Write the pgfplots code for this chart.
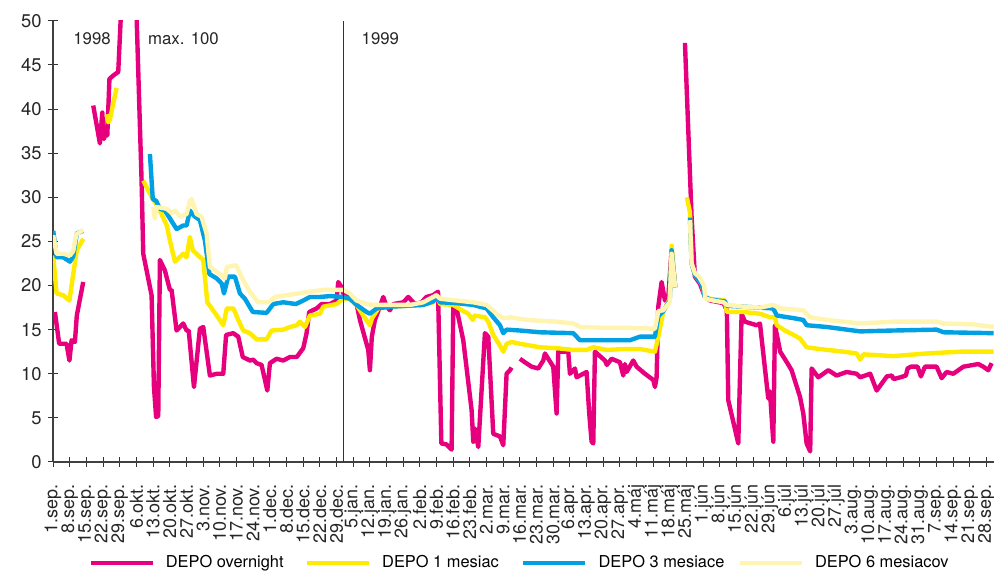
\documentclass[border=0pt]{standalone}
\usepackage{fontspec}
\setmainfont{TeX Gyre Heros}
\usepackage{pgfplots}
\pgfplotsset{compat=1.18}
\definecolor{cMag}{RGB}{230,0,126}
\definecolor{cYel}{RGB}{255,235,0}
\definecolor{cBlu}{RGB}{0,160,226}
\definecolor{cCre}{RGB}{255,244,176}
\begin{document}
\begin{tikzpicture}
\useasboundingbox (-26.5pt,-54.5pt) rectangle (470.5pt,231pt);
\begin{axis}[
  scale only axis, width=470.5pt, height=220.6pt,
  xmin=0, xmax=395.2, ymin=0, ymax=50,
  axis x line=bottom, axis y line=left,
  axis line style={-, black!75, line width=0.6pt},
  tick style={black!80, line width=0.5pt},
  major tick length=5pt, tick align=center,
  ytick={0,5,...,50},
  xtick={0,7,...,392},
  xticklabels={1.sep.,8.sep.,15.sep.,22.sep.,29.sep.,6.okt.,13.okt.,20.okt.,27.okt.,3.nov.,10.nov.,17.nov.,24.nov.,1.dec.,8.dec.,15.dec.,22.dec.,29.dec.,5.jan.,12.jan.,19.jan.,26.jan.,2.feb.,9.feb.,16.feb.,23.feb.,2.mar.,9.mar.,16.mar.,23.mar.,30.mar.,6.apr.,13.apr.,20.apr.,27.apr.,4.máj,11.máj,18.máj,25.máj,1.jún,8.jún,15.jún,22.jún,29.jún,6.júl,13.júl,20.júl,27.júl,3.aug.,10.aug.,17.aug.,24.aug.,31.aug.,7.sep.,14.sep.,21.sep.,28.sep.},
  xticklabel style={rotate=90, anchor=east, inner sep=0pt, font=\fontsize{9.0}{10}\selectfont, text=black!85},
  yticklabel style={anchor=east, inner sep=0pt, font=\fontsize{9.2}{10}\selectfont, text=black!85},
  /pgf/number format/assume math mode=true,
  xticklabel shift=8.5pt, yticklabel shift=3pt,
  unbounded coords=jump,
  every axis plot/.append style={line width=2.2pt, line join=round},
  legend columns=4,
  legend cell align=left,
  legend style={at={(axis description cs:0.0372,-0.229)}, anchor=west, draw=none, fill=none, inner sep=0pt, column sep=0pt, nodes={inner sep=0pt}, font=\fontsize{8.2}{9}\selectfont},
  legend image code/.code={\draw[#1] (0pt,0pt) -- (31pt,0pt);},
]
\addplot[cMag] coordinates {
(0.8,17.0) (2.6,13.4) (5.7,13.4) (6.9,11.5) (7.8,13.8) (9.2,13.6) (10,16.6) (12.7,20.4) (13.5,nan)
(16.9,40.4) (19.7,36.1) (20.7,39.6) (21.4,36.6) (22.3,37.6) (22.8,37.0) (23.7,43.4) (25.3,43.8) (27.4,44.2) (28.4,50) (29.5,75) (30.6,100) (32,98) (33.5,80) (35.1,50.6) (37.2,31.9) (37.9,23.6) (41.4,18.9) (42.4,8.5) (43.3,5.1) (44.2,5.2) (44.9,22.9) (47,21.7) (49.1,19.5) (49.8,19.5) (51.9,14.9) (54.7,15.7) (56.1,14.9) (57,14.9) (59.2,8.5) (61.7,15.1) (63.1,15.3) (65.9,9.8) (68.8,10.0) (71.5,10.0) (72.7,14.4) (75.7,14.6) (77.8,14.2) (79.7,11.9) (82.7,11.5) (84.1,11.6) (85.5,11.2) (87.6,11.0) (90,8.1) (91.1,11.2) (93.9,11.7) (96.7,11.5) (99.5,11.9) (102.4,11.9) (105.1,12.9) (106.5,14.6) (107.6,17.0) (110.7,17.4) (112.8,17.9) (116.3,17.9) (119.1,18.3) (119.8,20.4) (121.2,19.8) (121.9,19.1)
(122.6,19.1) (124.7,18.9) (127.5,17.9) (128.9,16.1) (132.4,12.7) (133.1,10.4) (133.9,14.2) (135.2,16.1) (137.3,17.6) (138.7,18.7) (140.1,17.6) (141.5,17.2) (142.9,17.9) (147.1,18.1) (149.2,18.7) (152,17.9) (154.8,18.1) (156.8,18.7) (159.6,18.9) (161.7,19.3) (163.1,2.1) (165.2,2.0) (167.4,1.4) (168.1,17.6) (169.5,17.4) (172.3,13.8) (175.8,5.9) (176.5,2.3) (177.2,3.8) (178.6,1.7) (181.4,14.6) (182.8,14.2) (184.9,3.2) (187.7,2.9) (189.1,1.9) (190.5,10.0) (191.9,10.4) (192.6,10.7) (194,nan)
(196.1,11.7) (198.2,11.3) (201,10.8) (203.8,10.6) (205.9,11.5) (206.6,12.3) (210.1,10.8) (211.5,5.5) (212.2,12.5) (216.4,12.5) (217.1,10.0) (219.2,10.6) (219.9,9.6) (224.1,10.2) (225.2,5.5) (226.2,2.3) (226.9,2.1) (227.6,12.5) (231.8,11.5) (232.6,11.0) (234.6,11.7) (238.1,11.3) (239.5,9.8) (240.2,11.1) (240.9,10.2) (243.7,11.5) (245.1,10.8) (248.6,10.0) (252.1,9.3) (252.8,8.5) (253.5,9.6) (254.2,17.6) (255.6,20.4) (257,18.3) (258.5,19.0) (259.8,24.0) (261.3,19.8) (263,nan)
(265.4,47.5) (268.2,27.7) (269.6,21.0) (271.7,20.2) (273.8,18.7) (276,18.3) (281.6,18.0) (283,17.2) (283.6,7.0) (287.8,2.1) (289.2,16.8) (290.6,15.9) (295.5,15.5) (296.9,15.7) (300.4,7.2) (301.1,8.0) (302.5,2.3) (303.2,15.5) (305.4,12.5) (308.2,11.3) (310.2,10.4) (313.7,7.4) (315.1,5.5) (316.5,2.1) (318,1.2) (318.6,10.6) (321.4,9.6) (323.5,10.0) (325.6,10.4) (329.1,9.8) (333.3,10.2) (337.5,10.0) (339,9.6) (343.2,10.0) (345.9,8.1) (347,8.5) (350.2,9.7) (352.3,9.8) (353,9.4) (355.9,9.6) (358.2,9.8) (358.9,10.6) (360.3,10.8) (363.1,10.8) (364.5,9.7) (366.2,10.8) (371.1,10.8) (373.2,9.5) (375.3,10.2) (378.1,10.0) (382.3,10.8) (386.5,11.0) (388.6,11.1) (390.7,10.8) (392.8,10.4) (394.2,11.2)
};
\addlegendentry{\makebox[75pt][l]{\hspace{5.5pt}DEPO overnight}}
\addplot[cYel] coordinates {
(0.1,23.4) (1.5,19.1) (4.3,18.9) (6.9,18.3) (8.5,21.3) (10,24.0) (12.7,25.3) (13.5,nan)
(22.5,39.4) (23.2,38.5) (23.9,38.8) (26.7,42.4) (27.5,nan)
(37.9,31.9) (40.7,30.4) (42,29.8) (44.9,28.5) (47.8,26.8) (49.1,25.1) (51.2,22.7) (54.7,23.6) (56.1,23.2) (57.5,25.5) (58.7,24.0) (61,23.4) (63.1,22.9) (64.8,18.1) (68.8,16.6) (71.5,15.5) (73,17.4) (75.8,17.4) (77.8,16.1) (79.9,14.9) (82.7,14.6) (85.5,13.9) (89.7,13.9) (91.8,14.9) (96.7,15.0) (99.5,15.3) (102.4,15.5) (103.7,15.9) (105.8,15.3) (107.9,16.6) (112.1,16.8) (113.5,17.6) (119.1,17.9) (121.9,18.5)
(124.7,18.5) (127.5,17.8) (130.3,16.6) (133.1,15.5) (134,16.3) (136.6,17.4) (141.5,17.6) (155.5,17.8) (159.7,18.1) (161,18.9) (162.6,17.9) (168.1,17.8) (171.7,17.2) (174.4,16.8) (176.3,16.1) (177,16.6) (181.4,16.4) (182.8,15.9) (184.9,14.4) (187.7,13.2) (189.1,12.5) (190.5,13.4) (192.6,13.6) (196.1,13.4) (200.3,13.2) (204.5,13.0) (211.5,12.9) (218.5,12.7) (224,12.7) (227,13.0) (232.6,12.7) (239.5,12.8) (246.5,12.8) (252.8,12.5) (254.2,14.2) (256.3,17.0) (259,18.5) (259.8,24.5) (261.3,19.8) (263,nan)
(266.2,30.0) (267.5,28.3) (268.2,22.5) (269.6,21.2) (272.4,20.2) (273.8,18.7) (276,18.5) (282.2,18.3) (283,17.0) (290,17.0) (297,16.8) (301.1,16.4) (303.2,16.4) (304,15.5) (307.4,14.9) (311,14.4) (313.7,14.0) (316.5,13.0) (322.1,12.8) (332,12.5) (337.5,12.3) (339,11.6) (340.4,12.2) (352.9,12.0) (366.9,12.3) (381,12.5) (395,12.5)
};
\addlegendentry{\makebox[75pt][l]{\hspace{5.5pt}DEPO 1 mesiac}}
\addplot[cBlu] coordinates {
(0.1,26.2) (1.5,23.2) (4.3,23.2) (7.1,22.7) (8.5,23.3) (10,25.9) (12.7,26.2) (13.5,nan)
(40.7,34.9) (41.9,29.8) (43.3,29.6) (44.9,28.7) (47,28.5) (49.1,27.6) (51.9,26.4) (54.7,26.8) (56.1,26.8) (57.5,28.5) (59.2,27.9) (61.7,27.4) (63.8,25.1) (65.7,21.3) (68.8,20.8) (70.9,20.2) (71.8,19.1) (73.6,21.0) (76.4,21.0) (78.5,19.1) (80.6,18.5) (83.9,17.0) (89.7,16.9) (92.5,17.9) (96.7,18.1) (102,17.9) (105.1,18.3) (107.9,18.7) (112.1,18.7) (116.3,18.8) (121.9,18.7)
(124.7,18.5) (127.5,17.8) (131.7,17.0) (133.1,16.8) (135.9,17.4) (141.5,17.6) (155.5,17.8) (159.7,18.2) (161,18.7) (162.6,18.1) (169.5,18.0) (176.5,17.8) (182.1,17.4) (184.9,16.4) (187.7,15.5) (189.1,14.6) (190.5,15.0) (196.1,14.9) (204.5,14.7) (218.5,14.6) (221.3,13.8) (232.6,13.8) (242.3,13.8) (246.5,14.2) (252.8,14.2) (254.2,16.5) (256.3,17.1) (259,18.3) (259.8,24.0) (261.3,19.8) (263,nan)
(267.5,27.7) (268.2,22.5) (269.6,21.2) (272.4,20.2) (273.8,18.7) (276,18.4) (282.2,18.2) (283,17.7) (290,17.6) (302.5,17.4) (304,16.6) (311,16.3) (315.1,16.1) (316.5,15.5) (325,15.3) (339,14.8) (352.9,14.9) (371.1,15.0) (374,14.7) (395,14.6)
};
\addlegendentry{\makebox[75pt][l]{\hspace{5.5pt}DEPO 3 mesiace}}
\addplot[cCre] coordinates {
(0.1,25.7) (1.5,23.6) (4.3,23.6) (7.1,23.4) (8.5,23.9) (9.8,25.8) (12.7,26.3) (13.5,nan)
(42.1,28.9) (42.8,27.6) (43.5,28.9) (47.8,28.7) (49.9,28.2) (51.4,28.5) (53.4,27.8) (56.1,28.1) (57.5,29.6) (58.2,29.8) (60.3,28.1) (62.4,27.8) (64.5,25.9) (65.9,22.1) (70.1,21.3) (72.2,20.8) (73,22.1) (76.9,22.3) (79.9,20.6) (82.7,19.3) (86.2,18.1) (90.7,18.1) (93.2,18.7) (98,18.9) (107.9,19.3) (113.5,19.5) (121.9,19.5)
(124.7,19.1) (127.5,18.3) (131.7,17.9) (133.9,17.8) (150,17.8) (155.5,18.1) (161,18.9) (162.6,18.5) (169.5,18.3) (176.5,18.1) (182.1,17.8) (186.3,16.8) (189.1,16.3) (192,16.4) (199,16.1) (211.5,15.9) (218.5,15.7) (221.3,15.3) (232.6,15.2) (242.3,15.2) (252.8,15.1) (254.2,17.1) (256.3,17.2) (259,18.1) (259.8,23.6) (261.3,19.8) (263,nan)
(267.5,27.4) (268.2,22.5) (269.6,21.4) (271.3,21.0) (273.4,20.0) (274,18.5) (277.3,18.3) (281.6,18.1) (283,17.8) (290,17.6) (297,17.5) (302.5,17.8) (305.4,17.4) (315.1,17.2) (318,16.4) (325,16.1) (332,15.9) (339,15.7) (352.9,15.9) (371.1,15.9) (374,15.7) (386.5,15.6) (395,15.3)
};
\addlegendentry{\makebox[75pt][l]{\hspace{5.5pt}DEPO 6 mesiacov}}
\addplot[black!80, line width=0.6pt, forget plot] coordinates {(122,0) (122,50)};
\node[font=\fontsize{8.4}{9}\selectfont, text=black!85] at (axis cs:16.4,48) {1998};
\node[font=\fontsize{8.4}{9}\selectfont, text=black!85] at (axis cs:54.8,48) {max. 100};
\node[font=\fontsize{8.4}{9}\selectfont, text=black!85] at (axis cs:137.5,48) {1999};
\end{axis}
\end{tikzpicture}
\end{document}
